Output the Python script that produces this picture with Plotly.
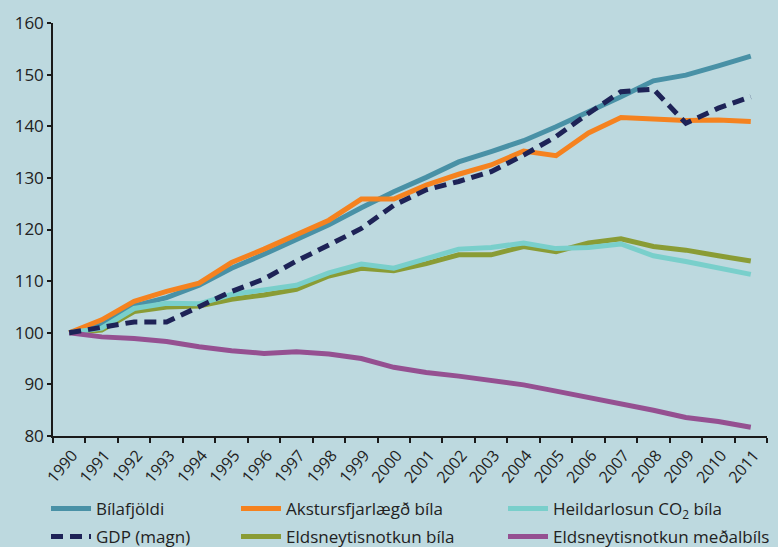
import plotly.graph_objects as go

years = [str(y) for y in range(1990, 2012)]

bilafjoldi = [100, 101.5, 105.2, 106.8, 109.2, 112.5, 115.2, 118.1, 120.9, 124.2, 127.3, 130.1,
              133.1, 135.1, 137.2, 139.9, 142.7, 145.7, 148.8, 149.9, 151.7, 153.6]
akstur = [100, 102.5, 106.1, 108.0, 109.6, 113.6, 116.2, 119.1, 121.8, 125.9, 125.9, 128.6,
          130.7, 132.5, 135.2, 134.3, 138.7, 141.7, 141.5, 141.1, 141.2, 140.9]
heildarlosun = [100, 100.9, 104.7, 105.7, 105.6, 107.4, 108.3, 109.2, 111.6, 113.3, 112.5, 114.4,
                116.2, 116.5, 117.4, 116.3, 116.5, 117.2, 114.9, 113.8, 112.5, 111.3]
gdp = [100, 101.1, 102.1, 102.1, 105.0, 108.0, 110.4, 113.9, 117.0, 120.2, 124.7, 127.7,
       129.3, 131.2, 134.4, 138.0, 142.5, 146.7, 147.2, 140.6, 143.5, 145.7]
eldsn_bila = [100, 100.5, 104.1, 105.0, 105.2, 106.5, 107.3, 108.4, 111.0, 112.5, 112.0, 113.4,
              115.1, 115.1, 116.7, 115.7, 117.4, 118.2, 116.7, 116.0, 114.9, 113.9]
eldsn_medal = [100, 99.2, 98.9, 98.3, 97.3, 96.5, 96.0, 96.3, 95.9, 95.0, 93.3, 92.3,
               91.6, 90.7, 89.9, 88.7, 87.5, 86.3, 85.0, 83.6, 82.8, 81.7]

y_ticks = [80, 90, 100, 110, 120, 130, 140, 150, 160]

BG = "#bdd9df"
FONT = "Open Sans"

series = [
    # name, data, color, dash, legend id
    ("Bílafjöldi", bilafjoldi, "#4991a6", "solid", "legend"),
    ("Akstursfjarlægð bíla", akstur, "#f5821f", "solid", "legend2"),
    ("Eldsneytisnotkun bíla", eldsn_bila, "#8a9c35", "solid", "legend5"),
    ("Heildarlosun CO<sub>2</sub> bíla", heildarlosun, "#79cfcb", "solid", "legend3"),
    ("Eldsneytisnotkun meðalbíls", eldsn_medal, "#955091", "solid", "legend6"),
    ("GDP (magn)", gdp, "#1e2357", "12px,7px", "legend4"),
]

fig = go.Figure()
for name, data, color, dash, leg in series:
    fig.add_trace(go.Scatter(
        x=years, y=data, name=name, mode="lines",
        line=dict(color=color, width=5, dash=dash),
        legend=leg,
    ))

W, H = 778, 547
leg_pos = {
    "legend": (46, 509),
    "legend2": (236, 509),
    "legend3": (503, 509),
    "legend4": (46, 537),
    "legend5": (236, 537),
    "legend6": (503, 537),
}
legend_layouts = {}
for k, (px, py) in leg_pos.items():
    legend_layouts[k] = dict(
        x=px / W, y=1 - py / H, xref="container", yref="container",
        xanchor="left", yanchor="middle",
        bgcolor="rgba(0,0,0,0)", borderwidth=0,
        font=dict(family=FONT, size=17, color="#222222"),
        orientation="v", itemwidth=40,
    )

fig.update_layout(
    width=W, height=H,
    paper_bgcolor=BG, plot_bgcolor=BG,
    margin=dict(l=53, r=11, t=23, b=111, autoexpand=False),
    font=dict(family=FONT, size=17, color="#222222"),
    showlegend=True,
    **legend_layouts,
)

fig.update_xaxes(
    type="category", range=[-0.5, len(years) - 0.5],
    tickson="boundaries", automargin=False,
    showline=True, linecolor="#1a1a1a", linewidth=1.5,
    ticks="outside", ticklen=5, tickcolor="#1a1a1a", tickwidth=1.5,
    tickangle=-50, showgrid=False, zeroline=False,
    ticklabelshift=3, ticklabelstandoff=2,
    tickfont=dict(family=FONT, size=16, color="#222222"),
)
fig.update_yaxes(
    range=[80, 160], tickvals=y_ticks, automargin=False,
    showline=True, linecolor="#1a1a1a", linewidth=1.5,
    ticks="outside", ticklen=4, tickcolor="#1a1a1a", tickwidth=1.5,
    showgrid=False, zeroline=False, ticksuffix="\u00a0",
    tickfont=dict(family=FONT, size=17, color="#222222"),
)

fig.write_html(
    "out.html",
    config={"displayModeBar": False},
    post_script="document.body.style.margin='0px';document.body.style.background='%s';" % BG,
)
